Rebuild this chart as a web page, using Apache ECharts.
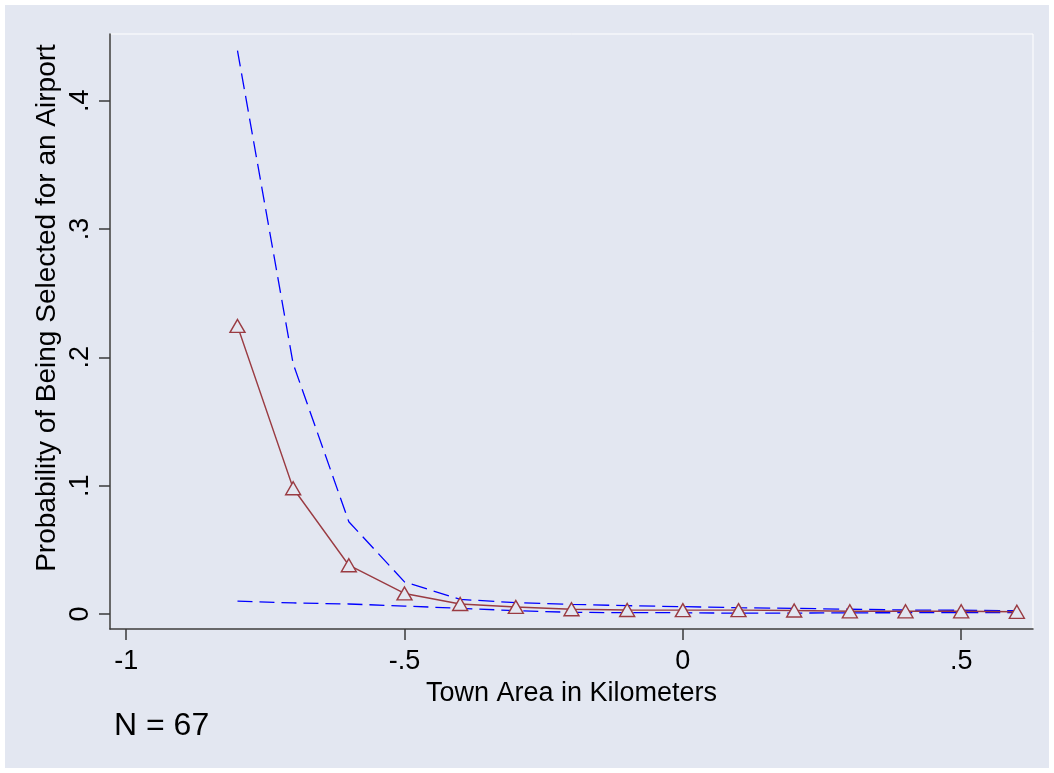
<!DOCTYPE html>
<html>
<head>
<meta charset="utf-8">
<script src="https://cdn.jsdelivr.net/npm/echarts@6/dist/echarts.min.js"></script>
<style>
  html, body { margin: 0; padding: 0; background: #ffffff; }
  #chart { width: 1054px; height: 773px; }
</style>
</head>
<body>
<div id="chart"></div>
<script>
// ---- data ----
const xValues = [-0.8, -0.7, -0.6, -0.5, -0.4, -0.3, -0.2, -0.1, 0, 0.1, 0.2, 0.3, 0.4, 0.5, 0.6];
const probability = [0.2245, 0.098, 0.038, 0.016, 0.0078, 0.0055, 0.0037, 0.0031, 0.003, 0.003, 0.0027, 0.0021, 0.0021, 0.0021, 0.0017];
const upperBound = [0.439, 0.195, 0.0719, 0.025, 0.0114, 0.0088, 0.0075, 0.0065, 0.0057, 0.0049, 0.0044, 0.0037, 0.0031, 0.0029, 0.0026];
const lowerBound = [0.0101, 0.0086, 0.0078, 0.0062, 0.0044, 0.0026, 0.0013, 0.001, 0.001, 0.0006, 0.0007, 0.0009, 0.001, 0.001, 0.001];
const xTicks = [-1, -0.5, 0, 0.5];
const yTicks = [0, 0.1, 0.2, 0.3, 0.4];
const xTitle = 'Town Area in Kilometers';
const yTitle = 'Probability of Being Selected for an Airport';
const noteText = 'N = 67';

const BG = '#E3E7F1';
const AXIS = '#3a3a3a';
const RED = '#9A3B42';
const BLUE = '#0000FF';
const FONT = '"Liberation Sans", Arial, Helvetica, sans-serif';

function fmt(v) {
  if (v === 0) return '0';
  return String(v).replace('0.', '.');
}
function pairs(ys) { return xValues.map((x, i) => [x, ys[i]]); }

const chart = echarts.init(document.getElementById('chart'), null, { renderer: 'canvas' });
chart.setOption({
  backgroundColor: '#ffffff',
  animation: false,
  graphic: [
    { type: 'rect', z: -10, silent: true, shape: { x: 5, y: 5, width: 1044, height: 763 }, style: { fill: BG } },
    { type: 'text', z: 10, x: 47, y: 308, rotation: Math.PI / 2,
      style: { text: yTitle, font: '28px ' + FONT, fill: '#000', align: 'center', verticalAlign: 'middle' } },
    { type: 'text', z: 10, x: 114, y: 726,
      style: { text: noteText, font: '32px ' + FONT, fill: '#000', align: 'left', verticalAlign: 'middle' } }
  ],
  grid: { left: 110, right: 21, top: 34, bottom: 144, show: true, backgroundColor: BG, borderColor: '#ffffff', borderWidth: 1 },
  xAxis: {
    type: 'value', min: -1.029, max: 0.629,
    name: xTitle, nameLocation: 'middle', nameGap: 43,
    nameTextStyle: { fontFamily: FONT, fontSize: 27, color: '#000' },
    axisLine: { show: true, onZero: false, lineStyle: { color: AXIS, width: 1.5 } },
    axisTick: { show: true, length: 11, customValues: xTicks, lineStyle: { color: AXIS, width: 1.5 } },
    axisLabel: { show: true, customValues: xTicks, formatter: fmt, margin: 19, fontFamily: FONT, fontSize: 27, color: '#000' },
    splitLine: { show: false }
  },
  yAxis: {
    type: 'value', min: -0.0117, max: 0.452,
    axisLine: { show: true, onZero: false, lineStyle: { color: AXIS, width: 1.5 } },
    axisTick: { show: true, length: 11, customValues: yTicks, lineStyle: { color: AXIS, width: 1.5 } },
    axisLabel: { show: true, customValues: yTicks, formatter: fmt, rotate: 90, margin: 16, fontFamily: FONT, fontSize: 27, color: '#000' },
    splitLine: { show: false }
  },
  series: [
    { type: 'line', name: 'upper', data: pairs(upperBound), showSymbol: false, symbol: 'none', z: 2,
      lineStyle: { color: BLUE, width: 1.3, type: [16, 7] } },
    { type: 'line', name: 'lower', data: pairs(lowerBound), showSymbol: false, symbol: 'none', z: 2,
      lineStyle: { color: BLUE, width: 1.3, type: [15, 7] } },
    { type: 'line', name: 'probability', data: pairs(probability), z: 3,
      symbol: 'triangle', symbolSize: [15, 13],
      itemStyle: { color: BG, borderColor: RED, borderWidth: 1.4 },
      lineStyle: { color: RED, width: 1.4 } }
  ]
});
</script>
</body>
</html>
